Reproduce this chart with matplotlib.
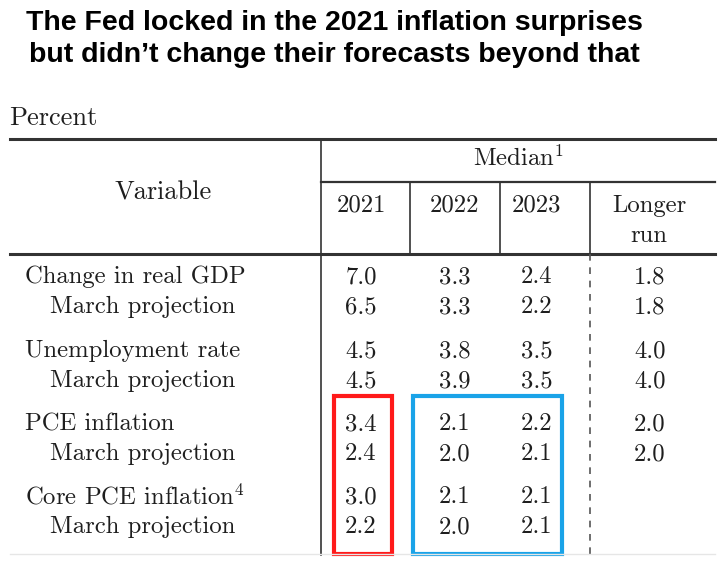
import matplotlib.pyplot as plt
from matplotlib.patches import Rectangle

# table data
title = "The Fed locked in the 2021 inflation surprises\nbut didn\u2019t change their forecasts beyond that"
years = ["2021", "2022", "2023"]
row_labels = ["Change in real GDP", "March projection",
              "Unemployment rate", "March projection",
              "PCE inflation", "March projection",
              "Core PCE inflation$^4$", "March projection"]
v2021 = ["7.0", "6.5", "4.5", "4.5", "3.4", "2.4", "3.0", "2.2"]
v2022 = ["3.3", "3.3", "3.8", "3.9", "2.1", "2.0", "2.1", "2.0"]
v2023 = ["2.4", "2.2", "3.5", "3.5", "2.2", "2.1", "2.1", "2.1"]
vlong = ["1.8", "1.8", "4.0", "4.0", "2.0", "2.0", "", ""]

plt.rcParams["mathtext.fontset"] = "cm"
serif = "cmr10"
fs = 17.8
tc = "#1e1e1e"

fig = plt.figure(figsize=(7.25, 5.85), dpi=100)
ax = fig.add_axes([0, 0, 1, 1])
ax.set_xlim(0, 725)
ax.set_ylim(585, 0)
ax.axis("off")

# title
ax.text(334, 39, title, ha="center", va="center", fontsize=20.5, fontweight="bold",
        family="Liberation Sans", linespacing=1.3)

ax.text(9, 118, "Percent", ha="left", va="center", fontsize=19, family=serif, color=tc)

# rules
lc = "#333333"
ax.plot([10, 715], [139, 139], color=lc, lw=2.2)
ax.plot([10, 715], [254, 254], color=lc, lw=2.2)
ax.plot([321, 715], [182, 182], color=lc, lw=1.6)
ax.plot([321, 321], [139, 555], color=lc, lw=1.2)
for x in [410, 500, 590]:
    ax.plot([x, x], [182, 254], color=lc, lw=1.2)
ax.plot([590, 590], [254, 555], color="#555555", lw=1.2, dashes=(4, 4))
ax.plot([10, 715], [554, 554], color="#e6e6e6", lw=1.0)

# header
ax.text(163, 193, "Variable", ha="center", va="center", fontsize=19, family=serif, color=tc)
ax.text(518, 158, r"Median$^1$", ha="center", va="center", fontsize=fs, family=serif, color=tc)
col_x = [361, 455, 537]
for x, y in zip(col_x, years):
    ax.text(x, 205, y, ha="center", va="center", fontsize=fs, family=serif, color=tc)
ax.text(649, 206, "Longer", ha="center", va="center", fontsize=fs, family=serif, color=tc)
ax.text(649, 236, "run", ha="center", va="center", fontsize=fs, family=serif, color=tc)

# body
row_y = [277, 307, 351, 381, 424, 454, 497, 527]
for i, lab in enumerate(row_labels):
    y = row_y[i]
    x = 50 if lab == "March projection" else 25
    ax.text(x, y, lab, ha="left", va="center", fontsize=fs, family=serif, color=tc)
    for cx, vals in zip(col_x + [650], [v2021, v2022, v2023, vlong]):
        ax.text(cx, y, vals[i], ha="center", va="center", fontsize=fs, family=serif, color=tc)

# highlight boxes
ax.add_patch(Rectangle((334, 396), 58, 158, fill=False, edgecolor="#ff1a1a", lw=3))
ax.add_patch(Rectangle((413, 396), 149, 158, fill=False, edgecolor="#1aa3e8", lw=3))

fig.savefig("out.png", dpi=100)
